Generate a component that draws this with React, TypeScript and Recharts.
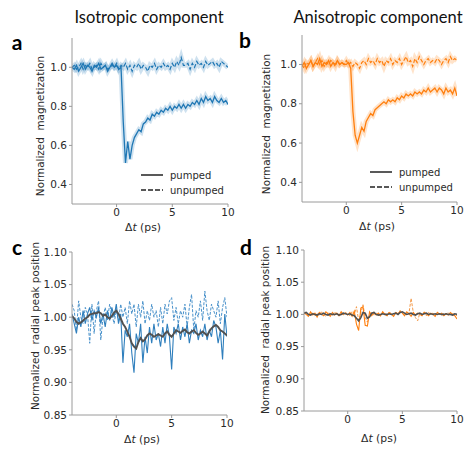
import React from "react";
import { LineChart, Line, XAxis, YAxis } from "recharts";

// time axis, ps
const T = [
  -4, -3.8, -3.6, -3.4, -3.2, -3, -2.8, -2.6, -2.4, -2.2,
  -2, -1.8, -1.6, -1.4, -1.2, -1, -0.8, -0.6, -0.4, -0.2,
  0, 0.2, 0.4, 0.6, 0.8, 1, 1.2, 1.4, 1.6, 1.8,
  2, 2.2, 2.4, 2.6, 2.8, 3, 3.2, 3.4, 3.6, 3.8,
  4, 4.2, 4.4, 4.6, 4.8, 5, 5.2, 5.4, 5.6, 5.8,
  6, 6.2, 6.4, 6.6, 6.8, 7, 7.2, 7.4, 7.6, 7.8,
  8, 8.2, 8.4, 8.6, 8.8, 9, 9.2, 9.4, 9.6, 9.8,
  10,
];

// a: isotropic magnetization
const A_PUMP = [
  1.0, 0.99, 1.01, 0.98, 1.0, 1.02, 0.99, 1.01, 1.0, 0.98,
  1.01, 1.0, 1.02, 0.99, 1.0, 1.01, 0.98, 1.0, 1.02, 1.0,
  1.01, 0.99, 1.0, 0.72, 0.51, 0.62, 0.53, 0.6, 0.64, 0.66,
  0.68, 0.67, 0.71, 0.72, 0.74, 0.73, 0.76, 0.75, 0.77, 0.76,
  0.78, 0.77, 0.79, 0.78, 0.8, 0.78, 0.8, 0.79, 0.81, 0.79,
  0.81, 0.79, 0.81, 0.8, 0.82, 0.81, 0.83, 0.81, 0.84, 0.82,
  0.85, 0.83, 0.84, 0.82, 0.85, 0.83, 0.82, 0.84, 0.82, 0.83,
  0.81,
];
const A_UNPUMP = [
  1.0, 1.01, 0.99, 1.0, 1.02, 0.99, 1.01, 1.0, 1.02, 0.99,
  1.0, 1.01, 0.99, 1.02, 1.0, 1.01, 0.99, 1.0, 1.01, 1.0,
  1.02, 0.99, 1.01, 1.0, 1.02, 0.99, 1.01, 0.98, 1.01, 1.0,
  1.02, 0.99, 1.01, 1.0, 0.98, 1.01, 1.0, 1.02, 0.99, 1.01,
  1.0, 1.02, 1.0, 1.01, 0.99, 1.02, 1.0, 1.03, 1.01, 1.05,
  1.01, 1.01, 1.02, 0.99, 1.02, 1.0, 1.03, 1.01, 1.02, 1.0,
  1.03, 1.01, 1.02, 1.03, 1.01, 1.02, 1.0, 1.03, 1.02, 1.01,
  1.0,
];

// b: anisotropic magnetization
const B_PUMP = [
  0.99, 1.01, 0.98, 1.0, 1.02, 0.99, 1.01, 1.0, 1.03, 0.99,
  1.01, 1.0, 1.02, 0.99, 1.01, 1.0, 1.02, 1.0, 1.01, 1.0,
  1.0, 1.01, 0.98, 0.76, 0.64, 0.6, 0.64, 0.68, 0.66, 0.71,
  0.73, 0.75, 0.74, 0.77, 0.78, 0.79, 0.8, 0.81, 0.8, 0.82,
  0.81, 0.82, 0.81, 0.83, 0.82, 0.84, 0.83, 0.85, 0.84, 0.85,
  0.84, 0.86, 0.85, 0.86, 0.85, 0.87, 0.86, 0.88, 0.86, 0.87,
  0.88, 0.86, 0.88, 0.87, 0.85, 0.88, 0.86, 0.87, 0.85, 0.88,
  0.84,
];
const B_UNPUMP = [
  1.0, 0.98, 1.01, 1.0, 1.02, 0.99, 1.01, 1.03, 1.0, 1.02,
  0.99, 1.01, 1.0, 1.02, 1.01, 0.99, 1.02, 1.0, 1.01, 1.0,
  1.02, 1.0, 1.01, 0.99, 1.01, 1.0, 0.98, 1.01, 1.02, 1.0,
  1.03, 1.01, 1.02, 1.0, 1.03, 1.01, 1.02, 0.99, 1.02, 1.01,
  1.03, 1.0, 1.02, 1.01, 1.03, 1.0, 1.02, 1.04, 1.01, 1.02,
  0.99, 1.03, 1.01, 1.04, 1.02, 1.0, 1.02, 1.03, 1.01, 1.02,
  1.01, 1.03, 1.02, 1.0, 1.02, 1.03, 1.01, 1.04, 1.02, 1.03,
  1.02,
];

// c: isotropic radial peak position
const C_PUMP = [
  1.005, 0.99, 0.975, 1.0, 0.985, 1.01, 0.99, 1.005, 1.015, 0.995,
  1.01, 1.0, 1.015, 0.99, 1.005, 0.985, 1.01, 0.995, 1.015, 1.0,
  1.02, 0.99, 1.005, 0.93, 0.98, 0.97, 0.99, 0.945, 0.915, 0.975,
  0.96, 0.99, 0.93, 0.97, 0.945, 0.985, 0.96, 0.99, 0.965, 0.975,
  0.955, 0.985, 0.96, 0.99, 0.97, 0.92, 0.985, 0.975, 0.99, 0.965,
  0.985, 0.97, 0.99, 0.96, 0.98, 0.975, 0.99, 0.965, 0.98, 0.97,
  0.99, 0.965, 0.98, 0.97, 0.995, 0.985, 0.96, 0.98, 0.935, 1.005,
  0.97,
];
const C_UNPUMP = [
  1.02, 1.01, 0.98, 1.025, 1.0, 0.99, 1.015, 1.005, 0.96, 1.02,
  0.975, 1.01, 1.025, 0.965, 1.0, 1.015, 0.995, 1.02, 1.005, 0.99,
  1.01, 0.995, 1.02, 1.0, 1.015, 0.99, 1.025, 1.005, 1.02, 0.985,
  1.02, 1.0, 1.025, 0.99, 1.01, 0.995, 1.02, 1.0, 1.01, 0.985,
  1.015, 0.99, 1.02, 1.005, 1.025, 1.03, 0.995, 1.015, 0.99, 1.01,
  1.0, 1.02, 0.985, 1.015, 1.035, 0.98, 1.01, 1.0, 1.025, 0.995,
  1.04, 1.01, 0.995, 1.02, 1.01, 1.0, 1.025, 0.99, 1.015, 1.03,
  1.0,
];
const C_SMOOTH = [
  1.002, 0.998, 0.993, 0.99, 0.992, 0.995, 0.998, 1.0, 1.004, 1.005,
  1.006, 1.006, 1.008, 1.006, 1.002, 1.004, 1.0, 0.998, 1.002, 1.007,
  1.01, 1.005, 0.998, 0.99, 0.985, 0.978, 0.97, 0.96, 0.955, 0.952,
  0.962, 0.968, 0.963, 0.966, 0.972, 0.975, 0.973, 0.97, 0.972, 0.974,
  0.972, 0.97, 0.975, 0.978, 0.973, 0.97, 0.975, 0.98, 0.978, 0.976,
  0.979, 0.981, 0.977, 0.975, 0.978, 0.98, 0.976, 0.973, 0.975, 0.978,
  0.975, 0.972, 0.978, 0.983, 0.986, 0.988, 0.985, 0.98, 0.978, 0.975,
  0.972,
];

// d: anisotropic radial peak position
const D_PUMP = [
  1.003, 1.0, 0.997, 1.004, 0.999, 1.002, 0.996, 1.003, 1.0, 0.998,
  1.004, 1.001, 0.997, 1.003, 0.999, 1.002, 0.998, 1.004, 1.0, 1.002,
  0.999, 1.003, 0.997, 1.005, 0.985, 0.975, 1.01, 1.012, 0.983, 0.982,
  1.004, 0.998, 1.003, 0.999, 1.002, 0.998, 1.004, 1.0, 0.998, 1.003,
  1.0, 0.997, 1.003, 1.001, 1.005, 1.002, 0.998, 1.004, 1.001, 0.997,
  1.003, 0.999, 1.002, 1.0, 0.998, 1.003, 1.001, 0.998, 1.002, 1.0,
  0.997, 1.003, 1.0, 1.002, 0.998, 1.001, 0.999, 1.003, 1.0, 0.998,
  0.993,
];
const D_UNPUMP = [
  1.0, 1.004, 0.998, 1.001, 1.003, 0.997, 1.002, 0.999, 1.004, 1.0,
  0.997, 1.003, 1.001, 0.998, 1.004, 1.0, 0.998, 1.002, 0.999, 1.003,
  1.001, 0.998, 1.004, 0.999, 1.012, 0.99, 1.002, 1.015, 0.995, 0.988,
  1.0, 1.004, 0.998, 1.002, 1.0, 0.997, 1.003, 1.001, 0.999, 1.004,
  1.001, 0.998, 1.003, 1.0, 1.006, 1.002, 0.999, 1.004, 1.001, 1.025,
  1.003, 0.995, 0.99, 1.002, 1.0, 1.004, 0.998, 1.003, 1.0, 1.002,
  0.999, 1.003, 1.001, 0.998, 1.002, 1.0, 1.003, 0.999, 1.001, 1.0,
  0.998,
];
const D_SMOOTH = [
  1.002, 1.003, 1.0, 0.999, 1.001, 1.0, 0.999, 1.001, 1.0, 1.002,
  1.0, 0.999, 1.001, 1.0, 1.0, 1.001, 0.999, 1.0, 1.002, 1.001,
  1.0, 1.001, 0.999, 0.998, 0.994, 0.99, 0.995, 1.003, 1.002, 0.994,
  0.996, 1.002, 1.003, 1.0, 0.999, 1.0, 1.001, 1.0, 1.0, 1.001,
  1.0, 1.001, 1.002, 1.0, 1.003, 1.004, 1.002, 1.0, 1.001, 1.002,
  1.0, 0.999, 1.001, 1.002, 1.0, 1.001, 1.002, 1.0, 1.001, 1.0,
  1.001, 1.0, 1.001, 1.0, 1.0, 1.001, 1.0, 1.0, 0.999, 1.001,
  1.0,
];

const X_TICKS = [0, 5, 10];
const MAG_TICKS = [0.4, 0.6, 0.8, 1.0];
const POS_TICKS = [0.85, 0.9, 0.95, 1.0, 1.05, 1.1];

const data = T.map((t, i) => ({
  t,
  aPump: A_PUMP[i],
  aUnpump: A_UNPUMP[i],
  bPump: B_PUMP[i],
  bUnpump: B_UNPUMP[i],
  cPump: C_PUMP[i],
  cUnpump: C_UNPUMP[i],
  cSmooth: C_SMOOTH[i],
  dPump: D_PUMP[i],
  dUnpump: D_UNPUMP[i],
  dSmooth: D_SMOOTH[i],
}));

const BLUE = "#1f77b4";
const ORANGE = "#ff7f0e";
const FRAME = "#9a9a9a";
const LABEL_FONT = "'DejaVu Sans', sans-serif";
const TICK = { fontSize: 10.5, fill: "#2a2a2a", fontFamily: LABEL_FONT };

type PanelProps = {
  left: number;
  top: number;
  width: number;
  height: number;
  margin: { top: number; right: number; left: number; bottom: number };
  yWidth: number;
  xHeight: number;
  yDomain: [number, number];
  yTicks: number[];
  digits: number;
  children: React.ReactNode;
};

function Panel(p: PanelProps) {
  return (
    <div style={{ position: "absolute", left: p.left, top: p.top }}>
      <LineChart width={p.width} height={p.height} data={data} margin={p.margin}>
        <XAxis
          dataKey="t"
          type="number"
          domain={[-4, 10]}
          ticks={X_TICKS}
          allowDataOverflow
          height={p.xHeight}
          tick={TICK}
          tickSize={3}
          tickMargin={2}
          stroke={FRAME}
        />
        <XAxis
          xAxisId="top"
          orientation="top"
          type="number"
          domain={[0, 1]}
          height={0}
          tick={false}
          tickLine={false}
          stroke={FRAME}
        />
        <YAxis
          type="number"
          domain={p.yDomain}
          ticks={p.yTicks}
          allowDataOverflow
          width={p.yWidth}
          tick={TICK}
          tickSize={3}
          tickMargin={2}
          tickFormatter={(v: number) => v.toFixed(p.digits)}
          stroke={FRAME}
        />
        <YAxis
          yAxisId="right"
          orientation="right"
          type="number"
          domain={[0, 1]}
          width={0}
          tick={false}
          tickLine={false}
          stroke={FRAME}
        />
        {p.children}
      </LineChart>
    </div>
  );
}

function band(key: string, color: string) {
  return (
    <Line
      key={key + "-band"}
      dataKey={key}
      stroke={color}
      strokeOpacity={0.22}
      strokeWidth={5}
      dot={false}
      isAnimationActive={false}
    />
  );
}

function Legend({ x, y }: { x: number; y: number }) {
  return (
    <g>
      <line x1={x} x2={x + 22} y1={y} y2={y} stroke="#222" strokeWidth={1.5} />
      <line x1={x} x2={x + 22} y1={y + 15} y2={y + 15} stroke="#222" strokeWidth={1.5} strokeDasharray="5 2" />
      <text x={x + 29} y={y + 3.5} fontSize={10} fill="#2a2a2a" fontFamily={LABEL_FONT}>pumped</text>
      <text x={x + 29} y={y + 18.5} fontSize={10} fill="#2a2a2a" fontFamily={LABEL_FONT}>unpumped</text>
    </g>
  );
}

function YLabel({ x, y, text }: { x: number; y: number; text: string }) {
  return (
    <text
      x={x}
      y={y}
      transform={`rotate(-90 ${x} ${y})`}
      textAnchor="middle"
      dominantBaseline="central"
      fontSize={10.4}
      fill="#2a2a2a"
      fontFamily={LABEL_FONT}
      style={{ whiteSpace: "pre" }}
    >
      {text}
    </text>
  );
}

function XLabel({ x, y }: { x: number; y: number }) {
  return (
    <text x={x} y={y} textAnchor="middle" dominantBaseline="central" fontSize={10.8} fill="#2a2a2a" fontFamily={LABEL_FONT}>
      Δ<tspan fontStyle="italic">t</tspan> (ps)
    </text>
  );
}

const TITLE_FONT = "Lato, sans-serif";

export default function App() {
  return (
    <div style={{ position: "absolute", left: 0, top: 0, width: 474, height: 454, background: "#fff" }}>
      <Panel
        left={0}
        top={0}
        width={240}
        height={227}
        margin={{ top: 38, right: 12, left: 0, bottom: 0 }}
        yWidth={72}
        xHeight={23}
        yDomain={[0.3, 1.15]}
        yTicks={MAG_TICKS}
        digits={1}
      >
        {band("aUnpump", BLUE)}
        {band("aPump", BLUE)}
        <Line dataKey="aUnpump" stroke={BLUE} strokeWidth={1.2} strokeDasharray="4 2" dot={false} isAnimationActive={false} />
        <Line dataKey="aPump" stroke={BLUE} strokeWidth={1.3} dot={false} isAnimationActive={false} />
      </Panel>

      <Panel
        left={237}
        top={0}
        width={237}
        height={227}
        margin={{ top: 35, right: 17, left: 0, bottom: 0 }}
        yWidth={65}
        xHeight={25}
        yDomain={[0.3, 1.15]}
        yTicks={MAG_TICKS}
        digits={1}
      >
        {band("bUnpump", ORANGE)}
        {band("bPump", ORANGE)}
        <Line dataKey="bUnpump" stroke={ORANGE} strokeWidth={1.2} strokeDasharray="4 2" dot={false} isAnimationActive={false} />
        <Line dataKey="bPump" stroke={ORANGE} strokeWidth={1.3} dot={false} isAnimationActive={false} />
      </Panel>

      <Panel
        left={0}
        top={227}
        width={237}
        height={227}
        margin={{ top: 25, right: 10, left: 0, bottom: 0 }}
        yWidth={72}
        xHeight={39}
        yDomain={[0.85, 1.1]}
        yTicks={POS_TICKS}
        digits={2}
      >
        <Line dataKey="cUnpump" stroke="#4a92cb" strokeWidth={1} strokeDasharray="3 1.5" dot={false} isAnimationActive={false} />
        <Line dataKey="cPump" stroke="#2f7fbd" strokeWidth={1.1} dot={false} isAnimationActive={false} />
        <Line dataKey="cSmooth" stroke="#505050" strokeWidth={1.9} dot={false} isAnimationActive={false} />
      </Panel>

      <Panel
        left={237}
        top={227}
        width={237}
        height={227}
        margin={{ top: 23, right: 17, left: 0, bottom: 0 }}
        yWidth={67}
        xHeight={43}
        yDomain={[0.85, 1.1]}
        yTicks={POS_TICKS}
        digits={2}
      >
        <Line dataKey="dUnpump" stroke="#f59a4a" strokeWidth={1} strokeDasharray="3 1.5" dot={false} isAnimationActive={false} />
        <Line dataKey="dPump" stroke={ORANGE} strokeWidth={1.1} dot={false} isAnimationActive={false} />
        <Line dataKey="dSmooth" stroke="#505050" strokeWidth={1.6} dot={false} isAnimationActive={false} />
      </Panel>

      <svg width={474} height={454} style={{ position: "absolute", left: 0, top: 0, pointerEvents: "none" }}>
        <text x={149} y={17} textAnchor="middle" dominantBaseline="central" fontSize={16.5} fill="#111" fontFamily={TITLE_FONT}>
          Isotropic component
        </text>
        <text x={378} y={17} textAnchor="middle" dominantBaseline="central" fontSize={16.5} fill="#111" fontFamily={TITLE_FONT}>
          Anisotropic component
        </text>
        <text x={17} y={41} textAnchor="middle" dominantBaseline="central" fontSize={21} fontWeight="bold" fill="#000" fontFamily={TITLE_FONT}>a</text>
        <text x={245} y={39} textAnchor="middle" dominantBaseline="central" fontSize={21} fontWeight="bold" fill="#000" fontFamily={TITLE_FONT}>b</text>
        <text x={17} y={246} textAnchor="middle" dominantBaseline="central" fontSize={21} fontWeight="bold" fill="#000" fontFamily={TITLE_FONT}>c</text>
        <text x={246} y={246} textAnchor="middle" dominantBaseline="central" fontSize={21} fontWeight="bold" fill="#000" fontFamily={TITLE_FONT}>d</text>

        <YLabel x={40} y={126} text="Normalized  magnetization" />
        <YLabel x={266} y={124} text="Normalized  magnetization" />
        <YLabel x={35} y={326} text="Normalized  radial peak position" />
        <YLabel x={265} y={330} text="Normalized  radial peak position" />

        <XLabel x={143} y={227} />
        <XLabel x={377} y={226} />
        <XLabel x={142} y={439} />
        <XLabel x={379} y={438} />

        <Legend x={141} y={175} />
        <Legend x={370} y={172} />
      </svg>
    </div>
  );
}
